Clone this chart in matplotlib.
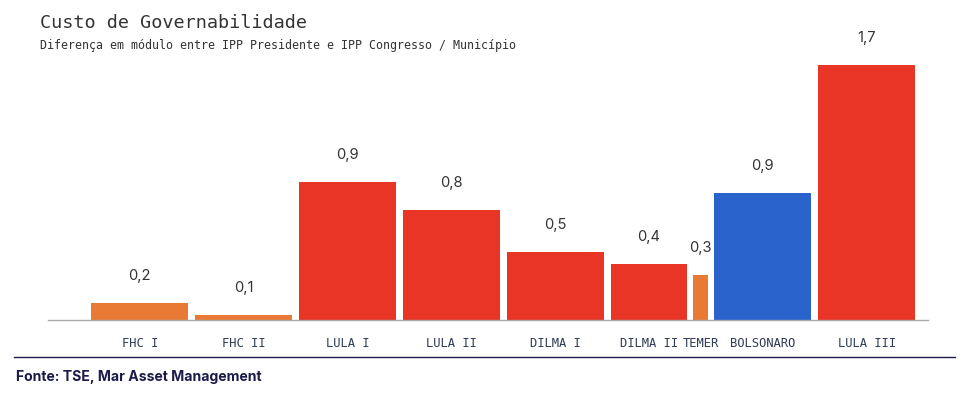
import math
import matplotlib
matplotlib.use("Agg")
import matplotlib.pyplot as plt
from matplotlib.lines import Line2D

# ---- data ----
categories = ["FHC I", "FHC II", "LULA I", "LULA II", "DILMA I",
              "DILMA II", "TEMER", "BOLSONARO", "LULA III"]
values = [0.21, 0.13, 0.99, 0.81, 0.54, 0.46, 0.39, 0.92, 1.75]
title = "Custo de Governabilidade"
subtitle = "Diferença em módulo entre IPP Presidente e IPP Congresso / Município"
source = "Fonte: TSE, Mar Asset Management"

# ---- styles ----
ORANGE = "#E97A35"
RED = "#E83526"
BLUE = "#2A63CC"
bar_colors = [ORANGE, ORANGE, RED, RED, RED, RED, ORANGE, BLUE, RED]

W, H, DPI = 972, 394, 100
fig = plt.figure(figsize=(W / DPI, H / DPI), dpi=DPI)
fig.patch.set_facecolor("white")

# axes placed in pixel coordinates
ax_left, ax_right, ax_bottom, ax_top = 48, 928, 320, 60
ax = fig.add_axes([ax_left / W, (H - ax_bottom) / H,
                   (ax_right - ax_left) / W, (ax_bottom - ax_top) / H])

# layout of bars: 8 slots, DILMA II and TEMER share one slot
bw = 0.934
gap = 0.067
temer_w = 0.135
dilma2_w = bw - gap - temer_w
lefts, widths = [], []
slot = 0
for i, c in enumerate(categories):
    if c == "DILMA II":
        lefts.append(slot - bw / 2)
        widths.append(dilma2_w)
    elif c == "TEMER":
        lefts.append(slot - bw / 2 + dilma2_w + gap)
        widths.append(temer_w)
        slot += 1
    else:
        lefts.append(slot - bw / 2)
        widths.append(bw)
        slot += 1
centers = [l + w / 2 for l, w in zip(lefts, widths)]

y0 = 0.0976
ax.bar(lefts, [v - y0 for v in values], width=widths, bottom=y0,
       align="edge", color=bar_colors, edgecolor="none", zorder=2)

ax.set_xlim(-0.883, 7.59)
ax.set_ylim(y0, y0 + 260 / 154.3)

for x, v in zip(centers, values):
    lab = f"{math.floor(v * 10 + 1e-9) / 10:.1f}".replace(".", ",")
    ax.annotate(lab, (x, v), xytext=(0, 19.4), textcoords="offset points",
                ha="center", va="center", fontsize=10.6, color="#333333",
                family=["Inter", "DejaVu Sans"])

ax.set_xticks(centers)
ax.set_xticklabels(categories, family="DejaVu Sans Mono", fontsize=8.7,
                   color="#2E3B55")
ax.tick_params(axis="x", length=0, pad=12)
ax.set_yticks([])
for s in ["top", "right", "left"]:
    ax.spines[s].set_visible(False)
ax.spines["bottom"].set_color("#AAAAAA")
ax.spines["bottom"].set_linewidth(1.0)

# titles
fig.text(40 / W, 1 - 23 / H, title, family="DejaVu Sans Mono", fontsize=13.3,
         color="#333333", va="center", ha="left")
fig.text(40 / W, 1 - 45 / H, subtitle, family="DejaVu Sans Mono", fontsize=8.35,
         color="#333333", va="center", ha="left")

# footer
fig.add_artist(Line2D([14 / W, 955 / W], [1 - 356.7 / H, 1 - 356.7 / H],
                      transform=fig.transFigure, color="#1C1A4A", lw=1.0))
fig.text(16 / W, 1 - 377 / H, source, family=["Inter", "DejaVu Sans"],
         fontsize=10.1, fontweight="bold", color="#1C1A4A", va="center", ha="left")

fig.savefig("out.png", dpi=DPI, facecolor="white")
